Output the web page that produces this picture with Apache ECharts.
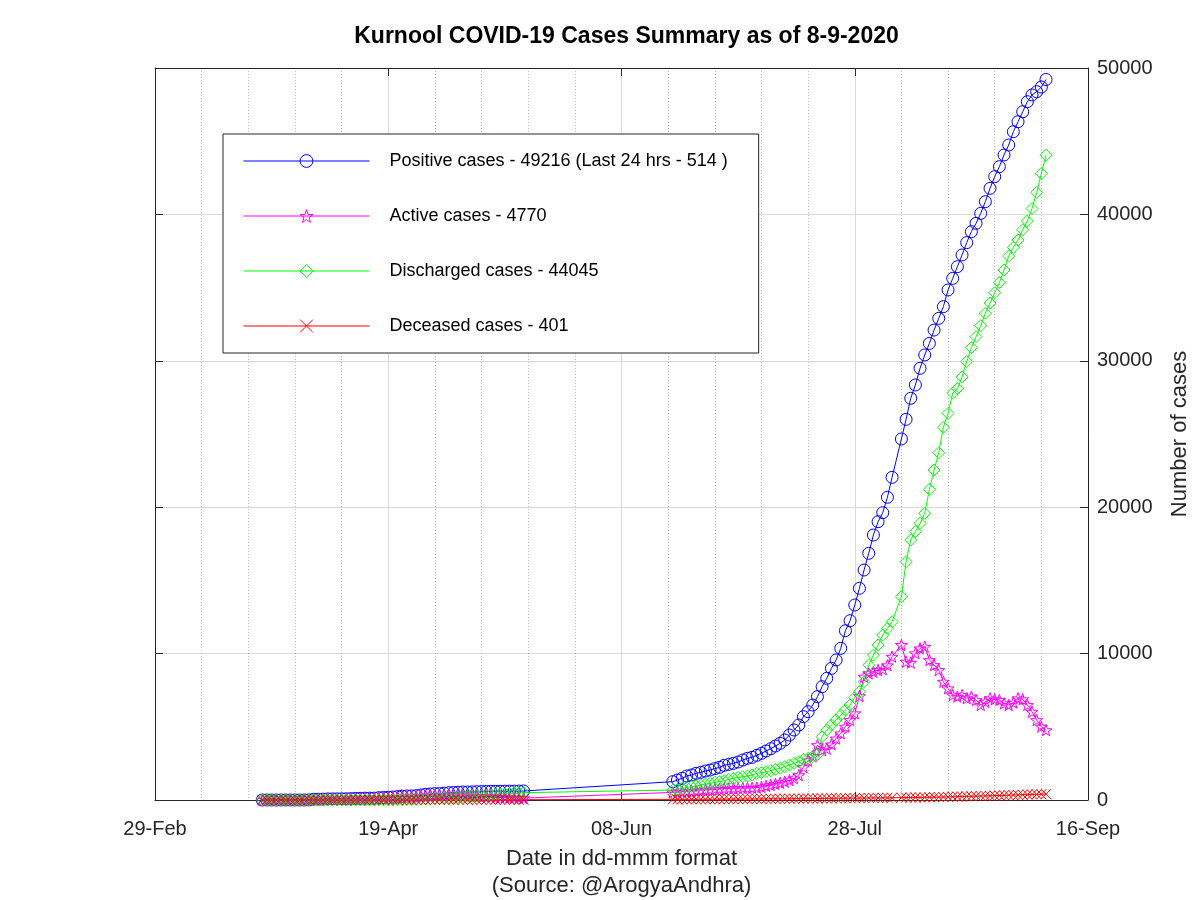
<!DOCTYPE html>
<html><head><meta charset="utf-8">
<script src="https://cdn.jsdelivr.net/npm/echarts@6/dist/echarts.min.js"></script>
<style>html,body{margin:0;padding:0;background:#fff}#c{width:1200px;height:900px}</style>
</head><body><div id="c"></div>
<script>
const titleText = 'Kurnool COVID-19 Cases Summary as of 8-9-2020';
const seriesNames = [
  'Positive cases - 49216 (Last 24 hrs - 514 )',
  'Active cases - 4770',
  'Discharged cases - 44045',
  'Deceased cases - 401'
];
const tickDays = [0, 50, 100, 150, 200];
const tickLabels = ['29-Feb', '19-Apr', '08-Jun', '28-Jul', '16-Sep'];
// reporting days, counted from 29-Feb (inclusive ranges)
const dayRanges = [[23, 79], [111, 158], [160, 191]];

const positive = [
  0,0,0,1,1,1,1,1,1,1,4,52,53,56,74,75,75,82,84,91,113,113,126,126,126,158,174,184,203,234,
  261,275,279,292,343,386,411,436,436,466,499,516,533,547,547,553,566,575,584,591,591,593,602,608,608,611,615,
  1252,1366,1480,1639,1708,1821,1890,1981,2049,2140,2231,2368,2436,2505,2596,2732,2846,2914,3051,3187,
  3347,3506,3689,3871,4098,4440,4781,5123,5692,6033,6489,7058,7741,8310,8993,9563,10360,11564,12247,13320,
  14460,15710,16850,18100,19010,19625,20676,22040,
  24660,26000,27440,28350,29490,30400,31190,32100,32900,33700,34840,35630,36430,37230,38070,38820,
  39390,40070,40870,41780,42580,43260,44060,44740,45650,46330,47010,47700,48160,48380,48702,49216
];
const active = [
  0,0,0,1,1,1,1,1,1,1,4,51,52,55,73,73,73,79,80,86,107,106,118,118,117,146,160,168,184,210,
  232,238,235,240,280,310,320,335,320,335,350,345,340,335,310,300,295,280,270,250,230,210,200,190,170,150,130,
  520,540,570,600,620,650,680,700,720,740,760,780,790,800,810,820,830,830,850,900,
  960,1025,1100,1180,1250,1350,1480,1700,2250,2700,3000,3750,3400,3500,3800,4200,4554,5010,5464,5920,
  7100,8420,8650,8760,8880,8930,9200,9790,
  10590,9450,9380,10020,10360,10470,9560,9220,8880,8080,7630,7170,7060,7170,6950,7060,
  6830,6490,6710,6950,6880,6830,6600,6490,6650,6950,6880,6490,6030,5460,5010,4770
];
const discharged = [
  0,0,0,0,0,0,0,0,0,0,0,0,0,0,0,0,0,0,0,0,0,0,0,1,2,5,8,10,12,15,
  20,30,37,42,55,68,89,105,134,163,179,197,218,231,246,260,278,305,320,352,381,401,423,445,466,481,500,
  683,728,797,843,911,956,1025,1093,1138,1207,1252,1320,1411,1480,1548,1594,1639,1708,1821,1867,
  1935,2003,2094,2163,2277,2391,2505,2618,2778,2850,2960,3100,4326,4781,5123,5464,5806,6148,6489,7000,
  7400,8080,9220,9900,10590,11270,11730,12180,
  13890,16280,17760,18330,18900,19580,21220,22540,23720,25460,26410,27800,28100,28900,29950,30900,
  31650,32400,33250,33950,34650,35350,36200,37150,37750,38250,38950,39550,40400,41500,42800,44045
];
const deceased = [
  0,0,0,0,0,0,0,0,0,0,0,1,1,1,1,2,2,3,3,4,4,5,5,5,5,6,6,7,8,8,
  9,9,10,10,11,12,13,13,14,14,15,15,16,16,17,17,17,18,18,18,19,19,19,19,20,20,20,
  45,46,47,48,49,50,51,52,53,54,55,57,59,61,63,65,67,69,71,73,
  75,77,79,81,84,87,90,93,96,99,102,105,108,111,114,117,120,123,126,129,
  132,135,138,141,144,147,150,153,
  158,162,166,170,175,180,186,192,198,205,212,220,228,236,245,254,
  263,272,281,290,300,310,320,330,340,350,360,370,380,388,395,401
];

const days = [];
dayRanges.forEach(([a, b]) => { for (let d = a; d <= b; d++) days.push(d); });
const pair = arr => days.map((d, i) => [d, arr[i]]);

const FONT = 'Liberation Sans';
const AX = '#262626';
const colors = ['#0000ff', '#ff00ff', '#00ff00', '#ff0000'];
const starPath = 'path://M0,-10L2.351,-3.236L9.511,-3.09L3.804,1.236L5.878,8.09L0,4L-5.878,8.09L-3.804,1.236L-9.511,-3.09L-2.351,-3.236Z';
const crossPath = 'path://M0,0L10,10M10,0L0,10';
const symbols = ['circle', starPath, 'diamond', crossPath];
const sizes = [12, 12, 12, 10];

function mkSeries(k, data) {
  return {
    name: seriesNames[k], type: 'line', data: pair(data), xAxisIndex: 0, yAxisIndex: 0,
    symbol: symbols[k], symbolSize: sizes[k], symbolKeepAspect: true, showAllSymbol: true,
    lineStyle: { color: colors[k], width: 1 },
    itemStyle: { color: 'rgba(255,255,255,0)', borderColor: colors[k], borderWidth: 1 },
    emphasis: { disabled: true }, z: 2
  };
}

const axisLineStyle = { show: true, onZero: false, lineStyle: { color: AX, width: 1 } };
const tickStyle = { show: true, inside: true, length: 8, lineStyle: { color: AX } };

const chart = echarts.init(document.getElementById('c'), null, { renderer: 'canvas' });
chart.setOption({
  animation: false,
  backgroundColor: '#fff',
  textStyle: { fontFamily: FONT },
  title: {
    text: titleText, left: 621.5, textAlign: 'center', top: 20,
    textStyle: { fontFamily: FONT, fontSize: 23, fontWeight: 'bold', color: '#000' }
  },
  grid: { left: 155, right: 112, top: 68, bottom: 100, containLabel: false, outerBoundsMode: 'none' },
  legend: {
    orient: 'vertical', left: 223, top: 134,
    padding: [17, 31, 17, 20], itemGap: 35, itemWidth: 126, itemHeight: 16,
    backgroundColor: '#fff', borderColor: AX, borderWidth: 1,
    textStyle: { fontFamily: FONT, fontSize: 18, color: '#000', lineHeight: 20, padding: [0, 0, 0, 15] },
    data: seriesNames.map((n, k) => ({
      name: n,
      itemStyle: { color: 'rgba(255,255,255,0)', borderColor: colors[k], borderWidth: 1 },
      lineStyle: { color: colors[k], width: 1 }
    }))
  },
  xAxis: [{
    type: 'value', min: 0, max: 200, interval: 50, position: 'bottom',
    name: 'Date in dd-mmm format\n(Source: @ArogyaAndhra)', nameLocation: 'middle', nameGap: 45,
    nameTextStyle: { fontFamily: FONT, fontSize: 22, color: AX, lineHeight: 27 },
    axisLine: axisLineStyle, axisTick: tickStyle,
    axisLabel: { fontFamily: FONT, fontSize: 20, color: AX, margin: 19,
      formatter: v => { const k = tickDays.indexOf(v); return k >= 0 ? tickLabels[k] : ''; } },
    splitLine: { show: true, lineStyle: { color: '#d9d9d9', width: 1 } },
    minorTick: { show: false, splitNumber: 5 },
    minorSplitLine: { show: true, lineStyle: { color: '#bdbdbd', width: 1, type: [1, 2] } }
  }, {
    type: 'value', min: 0, max: 200, interval: 50, position: 'top',
    axisLine: axisLineStyle, axisTick: tickStyle,
    axisLabel: { show: false }, splitLine: { show: false }
  }],
  yAxis: [{
    type: 'value', min: 0, max: 50000, interval: 10000, position: 'right',
    name: 'Number of cases', nameLocation: 'middle', nameGap: 81, nameRotate: 90,
    nameTextStyle: { fontFamily: FONT, fontSize: 22, color: AX },
    axisLine: axisLineStyle, axisTick: tickStyle,
    axisLabel: { fontFamily: FONT, fontSize: 20, color: AX, margin: 9, formatter: v => String(v) },
    splitLine: { show: true, lineStyle: { color: '#d9d9d9', width: 1 } }
  }, {
    type: 'value', min: 0, max: 50000, interval: 10000, position: 'left',
    axisLine: axisLineStyle, axisTick: tickStyle,
    axisLabel: { show: false }, splitLine: { show: false }
  }],
  series: [
    mkSeries(0, positive),
    mkSeries(1, active),
    mkSeries(2, discharged),
    mkSeries(3, deceased)
  ]
});
</script></body></html>
